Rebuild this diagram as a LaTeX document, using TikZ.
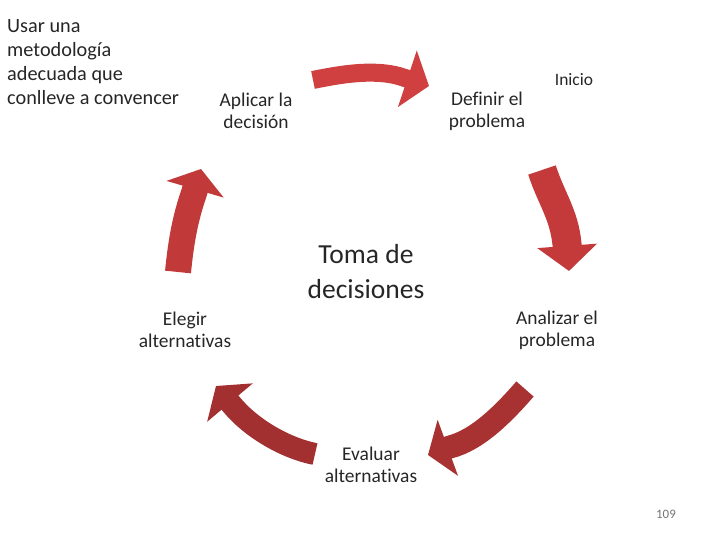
\documentclass[tikz,border=0pt]{standalone}
\usepackage{fontspec}
\setmainfont{Carlito}[Ligatures={NoCommon}]
\usetikzlibrary{arrows.meta, positioning}

\definecolor{arrowA}{RGB}{208,64,64}
\definecolor{arrowB}{RGB}{196,58,58}
\definecolor{arrowC}{RGB}{168,50,50}
\definecolor{arrowD}{RGB}{163,48,48}
\definecolor{arrowE}{RGB}{193,57,57}

\begin{document}
\begin{tikzpicture}[
x=0.03cm, y=-0.03cm,
label/.style={align=center, font=\fontsize{16.6}{18.8}\selectfont, text=black!85, inner sep=0pt},
cycarrow/.style n args={3}{line width=#1, draw=#2, fill=#2, -{Triangle[width=50pt, length=#3]}}
]
\useasboundingbox (0,0) rectangle (720,540);

\node[label, align=left, anchor=north west, font=\fontsize{17.3}{20.5}\selectfont] (goal) at (7,19) {Usar una\\metodología\\adecuada que\\conlleve a convencer};
\node[label] (apply) at (256,111) {Aplicar la\\decisión};
\node[label] (define) at (487,111) {Definir el\\problema};
\node[label, font=\fontsize{14.9}{17}\selectfont] (start) at (574,80) {Inicio};
\node[label, font=\fontsize{23.5}{29.8}\selectfont] (center) at (366,272) {Toma de\\decisiones};
\node[label] (choose) at (185,330) {Elegir\\alternativas};
\node[label] (analyse) at (557,330) {Analizar el\\problema};
\node[label] (evaluate) at (371,465) {Evaluar\\alternativas};
\node[font=\fontsize{11}{13}\selectfont, text=black!55] (page) at (666,514) {109};

% tail, head base and tip of each arrow
\coordinate (a1s) at (313,80);
\coordinate (a1b) at (405,78);
\coordinate (a1e) at (429,86);
\coordinate (a2s) at (542,170);
\coordinate (a2b) at (567,244);
\coordinate (a2e) at (569,271);
\coordinate (a3s) at (525,389);
\coordinate (a3b) at (450,447);
\coordinate (a3e) at (428,455);
\coordinate (a4s) at (315,454);
\coordinate (a4b) at (232,405);
\coordinate (a4e) at (216,386);
\coordinate (a5s) at (178,272);
\coordinate (a5b) at (194,193);
\coordinate (a5e) at (201,169);

\draw[cycarrow={15.4pt}{arrowA}{19.5pt}] (a1s) .. controls (342,74) and (378,68) .. (a1b) -- (a1e);
\draw[cycarrow={24.8pt}{arrowB}{21.5pt}] (a2s) .. controls (551,198) and (564,214) .. (a2b) -- (a2e);
\draw[cycarrow={19.6pt}{arrowC}{18pt}] (a3s) .. controls (505,412) and (478,440) .. (a3b) -- (a3e);
\draw[cycarrow={18.8pt}{arrowD}{18.5pt}] (a4s) .. controls (285,448) and (251,428) .. (a4b) -- (a4e);
\draw[cycarrow={22.2pt}{arrowE}{18pt}] (a5s) .. controls (181,242) and (185,219) .. (a5b) -- (a5e);
\end{tikzpicture}
\end{document}
